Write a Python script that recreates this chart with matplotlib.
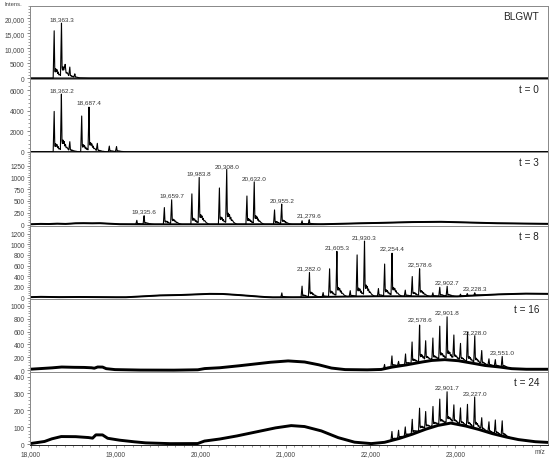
import numpy as np
import matplotlib
matplotlib.use("Agg")
import matplotlib.pyplot as plt
from matplotlib.ticker import FixedLocator, AutoMinorLocator, FuncFormatter

plt.rcParams['font.family'] = ['Liberation Sans', 'DejaVu Sans']

# ---------------- data ----------------
panel_names = ["BLGWT", "t = 0", "t = 3", "t = 8", "t = 16", "t = 24"]

# peaks: m/z and absolute intensity at the apex
p1_mz = [18277, 18363.3, 18406, 18461, 18520]
p1_int = [15800, 18300, 2600, 3200, 1200]
p2_mz = [18277, 18362.2, 18461, 18601, 18687.4, 18785, 18926, 19011]
p2_int = [3950, 5600, 900, 3500, 4400, 750, 560, 500]
p3_mz = [19250, 19335.6, 19574, 19659.7, 19898, 19983.8, 20222, 20308.0,
         20546, 20632.0, 20871, 20955.2, 21195, 21279.6]
p3_int = [90, 195, 360, 535, 650, 1005, 775, 1145, 605, 885, 310, 430, 80, 105]
p4_mz = [20957, 21195, 21282.0, 21443, 21519, 21605.3, 21762, 21843, 21930.3,
         22094, 22167, 22254.4, 22410, 22492, 22578.6, 22735, 22816, 22902.7,
         23060, 23140, 23228.3]
p4_int = [88, 215, 465, 95, 535, 870, 130, 795, 1060, 170, 620, 840, 140, 390,
          555, 90, 190, 215, 65, 75, 90]
p5_mz = [22166, 22253, 22331, 22413, 22490, 22578.6, 22650, 22735, 22816,
         22901.8, 22982, 23060, 23143, 23228.0, 23310, 23395, 23470, 23551.0]
p5_int = [90, 220, 130, 250, 430, 720, 420, 490, 670, 830, 520, 400, 580, 520,
          290, 170, 160, 210]
p6_mz = [22253, 22331, 22410, 22492, 22578, 22650, 22736, 22816, 22901.7,
         22982, 23060, 23142, 23227.0, 23310, 23395, 23470, 23551]
p6_int = [75, 80, 100, 145, 210, 185, 220, 262, 313, 225, 210, 232, 275, 150,
          130, 140, 135]

# labelled peaks
lab1 = [18363.3]
lab2 = [18362.2, 18687.4]
lab3 = [19335.6, 19659.7, 19983.8, 20308.0, 20632.0, 20955.2, 21279.6]
lab4 = [21282.0, 21605.3, 21930.3, 22254.4, 22578.6, 22902.7, 23228.3]
lab5 = [22578.6, 22901.8, 23228.0, 23551.0]
lab6 = [22901.7, 23227.0]

# baselines (m/z, intensity)
b1_mz = [17990, 24100]
b1_int = [0, 0]
b2_mz = [17990, 24100]
b2_int = [0, 0]
b3_mz = [17990, 18100, 18200, 18300, 18400, 18500, 18600, 18700, 18800, 18900,
         19000, 19200, 21400, 21600, 21800, 22000, 22200, 22400, 22600, 22800,
         23000, 23200, 23400, 23600, 23800, 24100]
b3_int = [5, 15, 10, 20, 12, 25, 30, 25, 30, 20, 8, 5, 5, 15, 25, 30, 40, 50,
          55, 60, 50, 40, 30, 25, 20, 15]
b4_mz = [17990, 18100, 18300, 18500, 18800, 19100, 19296, 19493, 19690, 19885,
         20080, 20238, 20396, 20552, 20708, 20826, 21150, 21500, 22000, 22500,
         23000, 23300, 23500, 23800, 24100]
b4_int = [8, 15, 8, 12, 10, 5, 20, 40, 45, 55, 70, 70, 55, 35, 15, 5, 5, 15,
          25, 25, 20, 45, 60, 75, 70]
b5_mz = [17990, 18120, 18238, 18355, 18473, 18590, 18708, 18747, 18786, 18845,
         18885, 18980, 19216, 19608, 19961, 20040, 20200, 20396, 20592, 20788,
         21022, 21216, 21375, 21532, 21690, 21926, 22120, 22238, 22393, 22552,
         22709, 22866, 23022, 23179, 23336, 23493, 23650, 23807, 24100]
b5_int = [15, 25, 35, 50, 45, 45, 40, 30, 50, 50, 25, 10, 3, 0, 5, 25, 35, 60,
          90, 120, 145, 130, 90, 35, 10, 5, 10, 45, 75, 115, 150, 165, 150, 115,
          75, 55, 25, 15, 15]
b6_mz = [17990, 18159, 18238, 18355, 18510, 18670, 18728, 18767, 18845, 18904,
         19022, 19140, 19335, 19610, 19963, 20041, 20198, 20394, 20629, 20865,
         21061, 21218, 21414, 21610, 21806, 22002, 22159, 22316, 22473, 22629,
         22786, 22943, 23100, 23257, 23414, 23571, 23727, 23923, 24100]
b6_int = [3, 15, 30, 45, 45, 40, 35, 55, 55, 35, 25, 18, 8, 3, 3, 18, 28, 45,
          70, 95, 110, 105, 80, 40, 12, 3, 10, 30, 55, 85, 110, 125, 110, 90,
          65, 45, 28, 15, 10]

y_ticks = [[0, 5000, 10000, 15000, 20000], [0, 2000, 4000, 6000],
           [0, 250, 500, 750, 1000, 1250], [0, 200, 400, 600, 800, 1000, 1200],
           [0, 200, 400, 600, 800, 1000], [0, 100, 200, 300, 400]]
x_ticks = [18000, 19000, 20000, 21000, 22000, 23000]

# ---------------- styling / drawing ----------------
ylims = [(-330, 24070), (-50, 7100), (-20, 1530), (-20, 1350), (-25, 1110), (-5, 428)]
fuzz_lw = [1.0, 1.0, 1.4, 1.4, 2.1, 2.1]
# peak profile (offset in Da, fraction of peak height above baseline)
shape_dx = [-12, 0, 6, 12, 18, 25, 33, 40, 48, 55, 65, 80, 100, 120]
shape_fr = [0, 1, 0.18, 0.13, 0.2, 0.14, 0.18, 0.1, 0.13, 0.07, 0.08, 0.04, 0.015, 0]

peaks = [(p1_mz, p1_int), (p2_mz, p2_int), (p3_mz, p3_int), (p4_mz, p4_int),
         (p5_mz, p5_int), (p6_mz, p6_int)]
bases = [(b1_mz, b1_int), (b2_mz, b2_int), (b3_mz, b3_int), (b4_mz, b4_int),
         (b5_mz, b5_int), (b6_mz, b6_int)]
labels = [lab1, lab2, lab3, lab4, lab5, lab6]

grid = np.arange(17990, 24100, 1.0)

def fmt(v, pos=None):
    return f"{v:,.0f}" if v >= 10000 else f"{v:.0f}"

fig = plt.figure(figsize=(5.5, 4.6), dpi=100)
left, right = 29.8 / 550, 548 / 550
top_px, bot_px = 7, 446
h = (bot_px - top_px) / 6
gray = '#555555'
for i in range(6):
    y0 = 1 - (top_px + (i + 1) * h) / 460
    ax = fig.add_axes([left, y0, right - left, h / 460])
    bmz, bint = bases[i]
    base = np.interp(grid, bmz, bint)
    trace = base.copy()
    pmz, pint = peaks[i]
    for m, v in zip(pmz, pint):
        rel = v - np.interp(m, bmz, bint)
        trace += rel * np.interp(grid - m, shape_dx, shape_fr, left=0, right=0)
    ax.plot(grid, base, color='black', lw=fuzz_lw[i], solid_capstyle='butt')
    ax.plot(grid, trace, color='black', lw=0.8)
    for m in labels[i]:
        j = int(np.argmin(np.abs(np.array(pmz) - m)))
        ax.annotate(f"{m:,.1f}", (pmz[j], pint[j]), xytext=(0, 1.5),
                    textcoords='offset points', ha='center', va='bottom',
                    fontsize=4.6, color='#333333')
    ax.set_xlim(17990, 24090)
    ax.set_ylim(*ylims[i])
    ax.yaxis.set_major_locator(FixedLocator(y_ticks[i]))
    ax.yaxis.set_major_formatter(FuncFormatter(fmt))
    ax.yaxis.set_minor_locator(AutoMinorLocator(5))
    ax.xaxis.set_major_locator(FixedLocator(x_ticks))
    ax.xaxis.set_minor_locator(AutoMinorLocator(10))
    ax.tick_params(axis='both', which='major', labelsize=4.8, labelcolor='#444444',
                   color=gray, length=2.2, width=0.5, pad=1.5)
    ax.tick_params(axis='both', which='minor', color=gray, length=1.2, width=0.4)
    if i < 5:
        ax.tick_params(axis='x', which='both', bottom=False, labelbottom=False)
    else:
        ax.xaxis.set_major_formatter(FuncFormatter(fmt))
        ax.text(0.985, -0.045, "m/z", transform=ax.transAxes, ha='center',
                va='top', fontsize=4.8, color='#444444')
    for s in ax.spines.values():
        s.set_color('#888888')
        s.set_linewidth(0.7)
    ax.spines['bottom'].set_color('#222222')
    ax.text(0.983, 0.93, panel_names[i], transform=ax.transAxes, ha='right',
            va='top', fontsize=7.2, color='#222222')
    if i == 0:
        ax.text(-0.015, 1.005, "Intens.", transform=ax.transAxes, ha='right',
                va='bottom', fontsize=4.2, color='#444444')

fig.savefig("out.png", dpi=100)
